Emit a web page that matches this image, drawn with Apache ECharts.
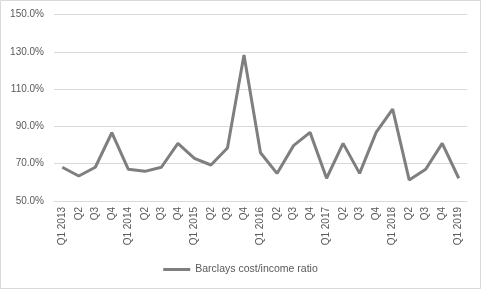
<!DOCTYPE html>
<html><head><meta charset="utf-8">
<script src="https://cdn.jsdelivr.net/npm/echarts@6/dist/echarts.min.js"></script>
<style>html,body{margin:0;padding:0;background:#fff}#c{width:481px;height:289px}</style>
</head><body><div id="c"></div>
<script>
const categories = ['Q1 2013','Q2','Q3','Q4','Q1 2014','Q2','Q3','Q4','Q1 2015','Q2','Q3','Q4','Q1 2016','Q2','Q3','Q4','Q1 2017','Q2','Q3','Q4','Q1 2018','Q2','Q3','Q4','Q1 2019'];
const costIncome = [68.1,63.4,68.1,86.6,67.0,65.9,68.1,80.9,72.9,69.3,78.4,128.3,75.9,64.8,79.7,86.8,62.2,80.9,64.8,86.8,99.3,61.3,67.0,80.9,62.2];
const seriesName = 'Barclays cost/income ratio';
const yMin = 50, yMax = 150, yStep = 20;

const chart = echarts.init(document.getElementById('c'), null, {renderer:'canvas'});
chart.setOption({
  animation:false,
  backgroundColor:'#fff',
  textStyle:{fontFamily:'Liberation Sans, Arial, sans-serif'},
  graphic:[{type:'rect',shape:{x:0.5,y:0.5,width:480,height:288},style:{fill:'none',stroke:'#d9d9d9',lineWidth:1},silent:true}],
  grid:{left:54,right:14,top:14.5,bottom:88},
  xAxis:{type:'category',data:categories,boundaryGap:true,
    axisTick:{show:false},
    axisLine:{show:true,lineStyle:{color:'#d9d9d9'}},
    axisLabel:{rotate:90,interval:0,fontSize:10,color:'#595959',margin:6}},
  yAxis:{type:'value',min:yMin,max:yMax,interval:yStep,
    axisLine:{show:false},axisTick:{show:false},
    splitLine:{lineStyle:{color:'#d9d9d9',width:1}},
    axisLabel:{fontSize:10,color:'#595959',margin:10,formatter:v=>v.toFixed(1)+'%'}},
  legend:{bottom:9,left:'center',icon:'rect',itemWidth:27,itemHeight:3,itemGap:3,
    textStyle:{fontSize:10.5,color:'#595959'},data:[seriesName]},
  series:[{name:seriesName,type:'line',data:costIncome,showSymbol:false,
    lineStyle:{color:'#7f7f7f',width:3},itemStyle:{color:'#7f7f7f'}}]
});
</script></body></html>
